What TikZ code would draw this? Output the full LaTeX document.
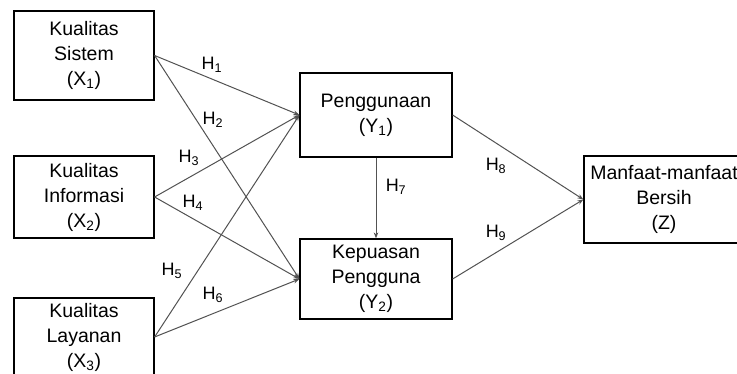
\documentclass[tikz,border=0pt]{standalone}
\usepackage{fontspec}
\setmainfont{Liberation Sans}
\usetikzlibrary{arrows.meta,positioning}

\tikzset{
  var/.style={draw=black, line width=1.2pt, align=center, inner sep=0pt,
    font=\fontsize{19.5}{25}\selectfont},
  link/.style={draw=black!68, line width=1pt, -{Stealth[length=6pt,width=4.5pt]}},
  hyp/.style={inner sep=0pt, font=\fontsize{18}{20}\selectfont}
}

\begin{document}
\begin{tikzpicture}[x=1pt,y=-1pt]
\clip (0,0) rectangle (737,374);
% exogenous variables
\node[var, minimum width=140, minimum height=89] (x1) at (84,55.5) {Kualitas\\Sistem\\(X\textsubscript{1})};
\node[var, minimum width=140, minimum height=82] (x2) at (84,197) {Kualitas\\Informasi\\(X\textsubscript{2})};
\node[var, minimum width=140, minimum height=78] (x3) at (84,337) {Kualitas\\Layanan\\(X\textsubscript{3})};
% endogenous variables
\node[var, minimum width=152, minimum height=84] (y1) at (376,115) {Penggunaan\\(Y\textsubscript{1})};
\node[var, minimum width=152, minimum height=80] (y2) at (376,279) {Kepuasan\\Pengguna\\(Y\textsubscript{2})};
\node[var, minimum width=160, minimum height=87] (z) at (664,199.5) {Manfaat-manfaat\\Bersih\\(Z)};
% paths
\draw[link] (x1.east) -- (y1.west);
\draw[link] (x1.east) -- (y2.west);
\draw[link] (x2.east) -- (y1.west);
\draw[link] (x2.east) -- (y2.west);
\draw[link] (x3.east) -- (y1.west);
\draw[link] (x3.east) -- (y2.west);
\draw[link] (y1.south) -- (y2.north);
\draw[link] (y1.east) -- (z.west);
\draw[link] (y2.east) -- (z.west);
% hypotheses
\node[hyp] (h1) at (212,65) {H\textsubscript{1}};
\node[hyp] (h2) at (213,120) {H\textsubscript{2}};
\node[hyp] (h3) at (189,158) {H\textsubscript{3}};
\node[hyp] (h4) at (193,203) {H\textsubscript{4}};
\node[hyp] (h5) at (172,271) {H\textsubscript{5}};
\node[hyp] (h6) at (213,295) {H\textsubscript{6}};
\node[hyp] (h7) at (396,187) {H\textsubscript{7}};
\node[hyp] (h8) at (496,166) {H\textsubscript{8}};
\node[hyp] (h9) at (496,233) {H\textsubscript{9}};
\end{tikzpicture}
\end{document}
